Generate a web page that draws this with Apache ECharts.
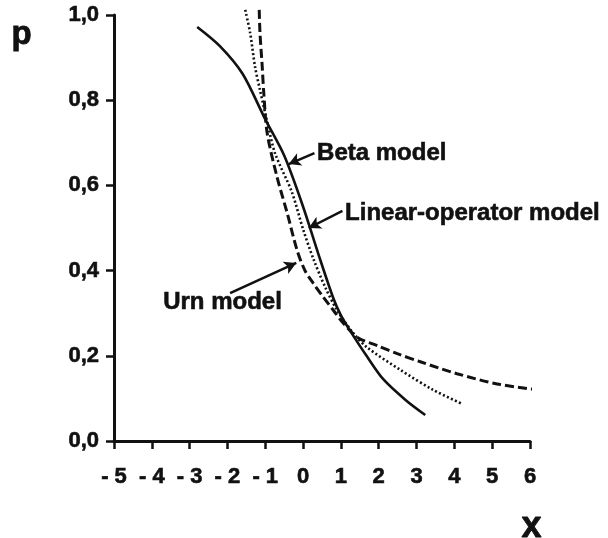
<!DOCTYPE html>
<html>
<head>
<meta charset="utf-8">
<script src="https://cdn.jsdelivr.net/npm/echarts@6/dist/echarts.min.js"></script>
<style>html,body{margin:0;padding:0;background:#fff;}#c{width:608px;height:538px;}</style>
</head>
<body>
<div id="c"></div>
<script>
// ---- data ----
const xTickLabels = ['- 5', '- 4', '- 3', '- 2', '- 1', '0', '1', '2', '3', '4', '5', '6'];
const yTickLabels = ['0,0', '0,2', '0,4', '0,6', '0,8', '1,0'];

const betaX = [-2.8, -2.2, -1.6, -1.0, -0.5, 0, 0.4, 0.8, 1.0, 1.25, 1.7, 2.12, 2.7, 3.23];
const betaP = [0.972, 0.927, 0.862, 0.755, 0.67, 0.55, 0.44, 0.335, 0.295, 0.258, 0.197, 0.145, 0.097, 0.061];

const linearX = [-1.53, -1.40, -1.27, -1.14, -0.95, -0.74, -0.30, 0, 0.27, 0.58, 0.9, 1.32, 1.69, 2.57, 3.44, 4.21];
const linearP = [1.012, 0.958, 0.878, 0.824, 0.75, 0.675, 0.585, 0.497, 0.428, 0.362, 0.307, 0.254, 0.22, 0.167, 0.12, 0.087];

const urnX = [-1.16, -1.14, -1.08, -1.04, -0.95, -0.69, -0.42, -0.16, 0.05, 0.27, 0.53, 0.8, 1.06, 1.46, 1.96, 2.49, 3.1, 4.07, 5.13, 6.22];
const urnP = [1.012, 0.958, 0.878, 0.817, 0.723, 0.62, 0.535, 0.448, 0.40, 0.37, 0.338, 0.307, 0.277, 0.242, 0.224, 0.205, 0.186, 0.158, 0.134, 0.12];

// annotations: text, text anchor (data coords), arrow tail, arrow tip
const annoText = ['Beta model', 'Linear-operator model', 'Urn model'];
const annoTextPos = [[0.37, 0.676], [1.11, 0.535], [-3.70, 0.326]];
const annoArrowFrom = [[0.30, 0.676], [1.04, 0.540], [-1.93, 0.347]];
const annoArrowTo = [[-0.38, 0.650], [0.15, 0.500], [-0.18, 0.418]];

const FONT = '"Liberation Sans", Arial, Helvetica, sans-serif';
const INK = '#111';

function pairs(xs, ys) { return xs.map((x, i) => [x, ys[i]]); }

const chart = echarts.init(document.getElementById('c'), null, { renderer: 'canvas' });

const arrowLines = annoArrowFrom.map((f, i) => [{ coord: f }, { coord: annoArrowTo[i] }]);

const labelStyle = { color: INK, fontSize: 22, fontWeight: 'bold', fontFamily: FONT, textBorderColor: INK, textBorderWidth: 0.6 };

const option = {
  backgroundColor: '#fff',
  animation: false,
  grid: { left: 114, right: 78, top: 15, bottom: 97, containLabel: false, outerBoundsMode: 'none' },
  xAxis: {
    type: 'value', min: -5, max: 6, interval: 1,
    splitLine: { show: false },
    axisLine: { show: true, onZero: false, lineStyle: { color: INK, width: 3 } },
    axisTick: { show: true, length: 8, lineStyle: { color: INK, width: 2.5 } },
    axisLabel: Object.assign({ margin: 25, formatter: v => xTickLabels[Math.round(v + 5)] }, labelStyle)
  },
  yAxis: {
    type: 'value', min: 0, max: 1, interval: 0.2,
    splitLine: { show: false },
    axisLine: { show: true, onZero: false, lineStyle: { color: INK, width: 3 } },
    axisTick: { show: true, length: 8, lineStyle: { color: INK, width: 2.5 } },
    axisLabel: Object.assign({ margin: 15, formatter: v => yTickLabels[Math.round(v / 0.2)] }, labelStyle)
  },
  series: [
    {
      name: 'Beta model', type: 'line', data: pairs(betaX, betaP),
      showSymbol: false, smooth: 0.3, clip: false,
      lineStyle: { color: INK, width: 2.6, type: 'solid' }
    },
    {
      name: 'Linear-operator model', type: 'line', data: pairs(linearX, linearP),
      showSymbol: false, smooth: 0.3, clip: false,
      lineStyle: { color: INK, width: 2.6, type: [2, 2.4] }
    },
    {
      name: 'Urn model', type: 'line', data: pairs(urnX, urnP),
      showSymbol: false, smooth: 0.3, clip: false,
      lineStyle: { color: INK, width: 3, type: [9, 4] },
      markLine: {
        silent: true, symbol: ['none', 'arrow'], symbolSize: [10, 12],
        label: { show: false },
        lineStyle: { color: INK, width: 2.5, type: 'solid' },
        data: arrowLines
      }
    }
  ],
  graphic: [
    { type: 'text', left: 11, top: 18, style: { text: 'p', font: 'bold 33px ' + FONT, fill: INK, stroke: INK, lineWidth: 0.8 } },
    { type: 'text', left: 521, top: 509, style: { text: 'x', font: 'bold 36px ' + FONT, fill: INK, stroke: INK, lineWidth: 0.8 } }
  ]
};
chart.setOption(option);

// place annotation texts at data positions
const annoGraphics = annoText.map((t, i) => {
  const p = chart.convertToPixel({ gridIndex: 0 }, annoTextPos[i]);
  return {
    type: 'text', x: p[0], y: p[1],
    style: { text: t, font: 'bold 24px ' + FONT, fill: INK, stroke: INK, lineWidth: 0.6, textAlign: 'left', textVerticalAlign: 'middle' }
  };
});
chart.setOption({ graphic: option.graphic.concat(annoGraphics) });
</script>
</body>
</html>
